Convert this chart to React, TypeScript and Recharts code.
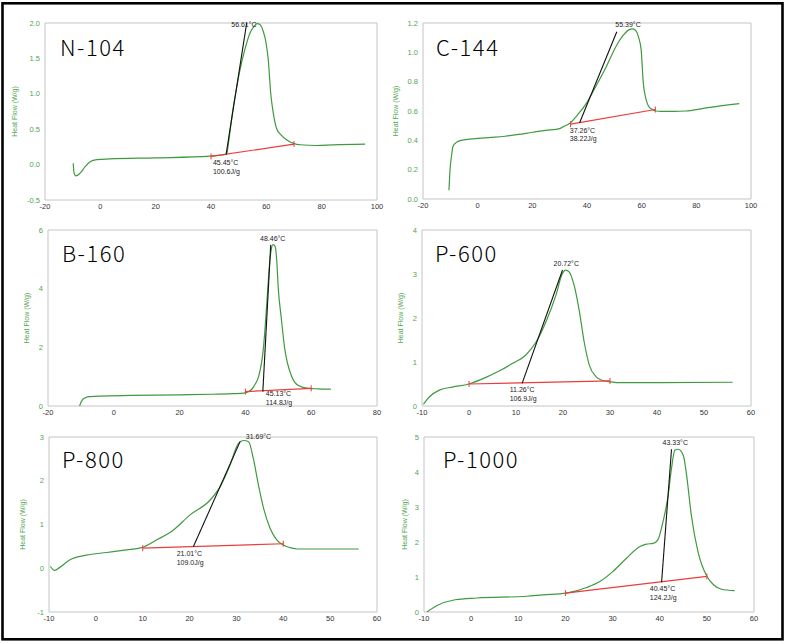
import React from "react";
import { LineChart, Line, XAxis, YAxis, ReferenceArea, ReferenceDot } from "recharts";

// colours
const GREEN = "#3f9a3f";
const TICK_GREEN = "#4fa64f";
const RED = "#ee3b3b";
const FONT = '"Liberation Sans", Arial, sans-serif';

type Pt = { x: number; y: number };

// ---- tick labels ----
const xTicksWide = [-20, 0, 20, 40, 60, 80, 100];
const xTicksMid = [-20, 0, 20, 40, 60, 80];
const xTicksNarrow = [-10, 0, 10, 20, 30, 40, 50, 60];
const yTicksN104 = [-0.5, 0, 0.5, 1.0, 1.5, 2.0];
const yTicksC144 = [0, 0.2, 0.4, 0.6, 0.8, 1.0, 1.2];
const yTicksB160 = [0, 2, 4, 6];
const yTicksP600 = [0, 1, 2, 3, 4];
const yTicksP800 = [-1, 0, 1, 2, 3];
const yTicksP1000 = [0, 1, 2, 3, 4, 5];

// ---- N-104 ----
const n104Curve: Pt[] = [
  { x: -9.8, y: 0.02 }, { x: -9.5, y: -0.12 }, { x: -8.8, y: -0.16 }, { x: -7.3, y: -0.12 },
  { x: -5.5, y: -0.03 }, { x: -3.7, y: 0.04 }, { x: -1.3, y: 0.07 }, { x: 3.5, y: 0.08 },
  { x: 20, y: 0.095 }, { x: 39.6, y: 0.12 }, { x: 43, y: 0.13 }, { x: 45.7, y: 0.15 },
  { x: 46.3, y: 0.3 }, { x: 47.1, y: 0.54 }, { x: 48.1, y: 0.82 }, { x: 48.7, y: 0.96 },
  { x: 50.5, y: 1.34 }, { x: 52.2, y: 1.62 }, { x: 54.1, y: 1.86 }, { x: 55.5, y: 1.95 },
  { x: 56.7, y: 1.99 }, { x: 57.7, y: 1.98 }, { x: 58.9, y: 1.88 }, { x: 59.9, y: 1.72 },
  { x: 60.7, y: 1.48 }, { x: 61.6, y: 1.0 }, { x: 62.5, y: 0.73 }, { x: 63.7, y: 0.51 },
  { x: 65.3, y: 0.42 }, { x: 67.3, y: 0.35 }, { x: 69.8, y: 0.3 }, { x: 72.2, y: 0.28 },
  { x: 78.2, y: 0.27 }, { x: 84.2, y: 0.28 }, { x: 95.7, y: 0.29 },
];
const n104Tangent: Pt[] = [{ x: 45.45, y: 0.14 }, { x: 52.9, y: 2.0 }];
const n104Base: Pt[] = [{ x: 40, y: 0.115 }, { x: 70, y: 0.29 }];

// ---- C-144 ----
const c144Curve: Pt[] = [
  { x: -10.5, y: 0.06 }, { x: -10.1, y: 0.2 }, { x: -9.6, y: 0.29 }, { x: -9, y: 0.36 },
  { x: -7.8, y: 0.386 }, { x: -6, y: 0.4 }, { x: -3, y: 0.408 }, { x: 0, y: 0.413 },
  { x: 5, y: 0.42 }, { x: 10, y: 0.428 }, { x: 15, y: 0.44 }, { x: 20, y: 0.455 },
  { x: 25, y: 0.468 }, { x: 30, y: 0.48 }, { x: 31.5, y: 0.495 }, { x: 33.6, y: 0.515 },
  { x: 36.6, y: 0.575 }, { x: 39.7, y: 0.65 }, { x: 43.3, y: 0.77 }, { x: 47, y: 0.9 },
  { x: 50.6, y: 1.04 }, { x: 53, y: 1.11 }, { x: 55.5, y: 1.155 }, { x: 56.7, y: 1.16 },
  { x: 58, y: 1.145 }, { x: 58.9, y: 1.1 }, { x: 59.8, y: 1.02 }, { x: 60.6, y: 0.79 },
  { x: 61.6, y: 0.68 }, { x: 62.8, y: 0.625 }, { x: 64, y: 0.61 }, { x: 65.3, y: 0.6 },
  { x: 67, y: 0.598 }, { x: 72, y: 0.598 }, { x: 76, y: 0.6 }, { x: 85, y: 0.625 },
  { x: 95.7, y: 0.65 },
];
const c144Tangent: Pt[] = [{ x: 37.3, y: 0.52 }, { x: 50.9, y: 1.14 }];
const c144Base: Pt[] = [{ x: 34, y: 0.51 }, { x: 65, y: 0.61 }];

// ---- B-160 ----
const b160Curve: Pt[] = [
  { x: -10.4, y: 0 }, { x: -10, y: 0.12 }, { x: -9.5, y: 0.22 }, { x: -8.5, y: 0.29 },
  { x: -7, y: 0.32 }, { x: -4, y: 0.34 }, { x: 5, y: 0.36 }, { x: 20, y: 0.38 },
  { x: 30, y: 0.4 }, { x: 36, y: 0.42 }, { x: 40, y: 0.45 }, { x: 42, y: 0.58 },
  { x: 43, y: 0.75 }, { x: 44, y: 1.0 }, { x: 45.5, y: 2.0 }, { x: 46.2, y: 3.0 },
  { x: 46.8, y: 4.0 }, { x: 47.3, y: 4.8 }, { x: 47.8, y: 5.3 }, { x: 48.4, y: 5.5 },
  { x: 49, y: 5.45 }, { x: 49.5, y: 5.0 }, { x: 50, y: 4.0 }, { x: 50.9, y: 3.0 },
  { x: 51.9, y: 2.0 }, { x: 54.1, y: 1.0 }, { x: 56.1, y: 0.7 }, { x: 59.2, y: 0.6 },
  { x: 62, y: 0.585 }, { x: 66, y: 0.575 },
];
const b160Tangent: Pt[] = [{ x: 45.3, y: 0.49 }, { x: 47.7, y: 5.5 }];
const b160Base: Pt[] = [{ x: 40, y: 0.49 }, { x: 60, y: 0.6 }];

// ---- P-600 ----
const p600Curve: Pt[] = [
  { x: -9.7, y: 0.04 }, { x: -8.4, y: 0.21 }, { x: -6.3, y: 0.36 }, { x: -3.5, y: 0.43 },
  { x: 0, y: 0.5 }, { x: 3.6, y: 0.65 }, { x: 6.5, y: 0.8 }, { x: 9.3, y: 0.97 },
  { x: 12.1, y: 1.16 }, { x: 14.3, y: 1.46 }, { x: 16.4, y: 1.92 }, { x: 18.5, y: 2.52 },
  { x: 19.9, y: 3.02 }, { x: 20.6, y: 3.09 }, { x: 21.3, y: 3.05 }, { x: 22.4, y: 2.73 },
  { x: 23.5, y: 2.14 }, { x: 24.5, y: 1.46 }, { x: 25.6, y: 0.93 }, { x: 27, y: 0.67 },
  { x: 28.4, y: 0.58 }, { x: 30.2, y: 0.55 }, { x: 32, y: 0.53 }, { x: 40.5, y: 0.53 },
  { x: 56.1, y: 0.54 },
];
const p600Tangent: Pt[] = [{ x: 11.3, y: 0.515 }, { x: 19.9, y: 3.09 }];
const p600Base: Pt[] = [{ x: 0, y: 0.5 }, { x: 30, y: 0.57 }];

// ---- P-800 ----
const p800Curve: Pt[] = [
  { x: -9.7, y: 0.04 }, { x: -8.8, y: -0.05 }, { x: -7.7, y: 0.02 }, { x: -5.6, y: 0.19 },
  { x: -2, y: 0.3 }, { x: 2.3, y: 0.36 }, { x: 6.5, y: 0.42 }, { x: 9.7, y: 0.47 },
  { x: 13, y: 0.65 }, { x: 16.5, y: 0.87 }, { x: 20.1, y: 1.22 }, { x: 24.4, y: 1.56 },
  { x: 26.5, y: 1.86 }, { x: 28.6, y: 2.35 }, { x: 30.4, y: 2.85 }, { x: 31.5, y: 2.92 },
  { x: 32.6, y: 2.89 }, { x: 33.6, y: 2.51 }, { x: 34.7, y: 1.9 }, { x: 35.8, y: 1.37 },
  { x: 37.2, y: 0.91 }, { x: 38.6, y: 0.65 }, { x: 40, y: 0.53 }, { x: 41.5, y: 0.47 },
  { x: 42.9, y: 0.44 }, { x: 56.1, y: 0.44 },
];
const p800Tangent: Pt[] = [{ x: 20.8, y: 0.49 }, { x: 30.8, y: 2.9 }];
const p800Base: Pt[] = [{ x: 10, y: 0.46 }, { x: 40, y: 0.56 }];

// ---- P-1000 ----
const p1000Curve: Pt[] = [
  { x: -9.4, y: 0 }, { x: -7.3, y: 0.18 }, { x: -3.4, y: 0.35 }, { x: 1.2, y: 0.4 },
  { x: 11.8, y: 0.45 }, { x: 15.3, y: 0.49 }, { x: 20.2, y: 0.54 }, { x: 24.5, y: 0.7 },
  { x: 27.3, y: 0.87 }, { x: 30.1, y: 1.16 }, { x: 32.9, y: 1.53 }, { x: 35.8, y: 1.87 },
  { x: 37.2, y: 1.94 }, { x: 38.6, y: 1.96 }, { x: 39.6, y: 2.06 }, { x: 40.7, y: 2.58 },
  { x: 41.8, y: 3.34 }, { x: 42.5, y: 4.1 }, { x: 43.2, y: 4.62 }, { x: 43.9, y: 4.65 },
  { x: 45, y: 4.48 }, { x: 45.7, y: 3.91 }, { x: 46.7, y: 2.77 }, { x: 48.1, y: 1.73 },
  { x: 50, y: 1.02 }, { x: 51.4, y: 0.78 }, { x: 53.1, y: 0.65 }, { x: 55.9, y: 0.61 },
];
const p1000Tangent: Pt[] = [{ x: 40.4, y: 0.85 }, { x: 42.5, y: 4.65 }];
const p1000Base: Pt[] = [{ x: 20, y: 0.54 }, { x: 50, y: 1.02 }];

type Note = { x: number; y: number; lines: string[]; anchor: "start" | "middle" };

type Panel = {
  name: string;
  curve: Pt[];
  tangent: Pt[];
  base: Pt[];
  xTicks: number[];
  yTicks: number[];
  decimals: number;
  notes: Note[];
  plot: { l: number; t: number; r: number; b: number };
  cell: { x: number; y: number; w: number; h: number };
  labelGap: number;
  title: { x: number; y: number };
};

const panels: Panel[] = [
  {
    name: "N-104", curve: n104Curve, tangent: n104Tangent, base: n104Base,
    xTicks: xTicksWide, yTicks: yTicksN104, decimals: 1,
    notes: [
      { x: 51.9, y: 1.94, lines: ["56.61°C"], anchor: "middle" },
      { x: 40.7, y: -0.01, lines: ["45.45°C", "100.6J/g"], anchor: "start" },
    ],
    plot: { l: 45, t: 23, r: 377, b: 200 }, cell: { x: 4, y: 4, w: 390, h: 213 },
    labelGap: 30, title: { x: 60, y: 56 },
  },
  {
    name: "C-144", curve: c144Curve, tangent: c144Tangent, base: c144Base,
    xTicks: xTicksWide, yTicks: yTicksC144, decimals: 1,
    notes: [
      { x: 55.0, y: 1.176, lines: ["55.39°C"], anchor: "middle" },
      { x: 33.7, y: 0.453, lines: ["37.26°C", "38.22J/g"], anchor: "start" },
    ],
    plot: { l: 423, t: 23, r: 751, b: 199 }, cell: { x: 386, y: 4, w: 396, h: 213 },
    labelGap: 27, title: { x: 436, y: 56 },
  },
  {
    name: "B-160", curve: b160Curve, tangent: b160Tangent, base: b160Base,
    xTicks: xTicksMid, yTicks: yTicksB160, decimals: 0,
    notes: [
      { x: 48.3, y: 5.63, lines: ["48.46°C"], anchor: "middle" },
      { x: 46.2, y: 0.34, lines: ["45.13°C", "114.8J/g"], anchor: "start" },
    ],
    plot: { l: 48, t: 230, r: 377, b: 406 }, cell: { x: 4, y: 217, w: 390, h: 208 },
    labelGap: 21, title: { x: 62, y: 262 },
  },
  {
    name: "P-600", curve: p600Curve, tangent: p600Tangent, base: p600Base,
    xTicks: xTicksNarrow, yTicks: yTicksP600, decimals: 0,
    notes: [
      { x: 20.7, y: 3.18, lines: ["20.72°C"], anchor: "middle" },
      { x: 8.66, y: 0.307, lines: ["11.26°C", "106.9J/g"], anchor: "start" },
    ],
    plot: { l: 422, t: 230, r: 751, b: 406 }, cell: { x: 386, y: 217, w: 396, h: 208 },
    labelGap: 21, title: { x: 435, y: 262 },
  },
  {
    name: "P-800", curve: p800Curve, tangent: p800Tangent, base: p800Base,
    xTicks: xTicksNarrow, yTicks: yTicksP800, decimals: 0,
    notes: [
      { x: 32.0, y: 2.95, lines: ["31.69°C"], anchor: "start" },
      { x: 17.25, y: 0.28, lines: ["21.01°C", "109.0J/g"], anchor: "start" },
    ],
    plot: { l: 49, t: 437, r: 377, b: 612 }, cell: { x: 4, y: 425, w: 390, h: 213 },
    labelGap: 26, title: { x: 62, y: 468 },
  },
  {
    name: "P-1000", curve: p1000Curve, tangent: p1000Tangent, base: p1000Base,
    xTicks: xTicksNarrow, yTicks: yTicksP1000, decimals: 0,
    notes: [
      { x: 43.3, y: 4.77, lines: ["43.33°C"], anchor: "middle" },
      { x: 37.9, y: 0.586, lines: ["40.45°C", "124.2J/g"], anchor: "start" },
    ],
    plot: { l: 424, t: 437, r: 754, b: 612 }, cell: { x: 386, y: 425, w: 396, h: 213 },
    labelGap: 19, title: { x: 443, y: 468 },
  },
];

const Y_W = 34;
const X_H = 14;

// red baseline end ticks
const BaseTick = (props: any) => {
  const { cx, cy, index } = props;
  if (cx == null || cy == null) return <g key={index} />;
  return <line key={index} x1={cx} x2={cx} y1={cy - 3} y2={cy + 3} stroke={RED} strokeWidth={1} />;
};

function DscPanel({ p }: { p: Panel }) {
  const xMin = p.xTicks[0];
  const xMax = p.xTicks[p.xTicks.length - 1];
  const yMin = p.yTicks[0];
  const yMax = p.yTicks[p.yTicks.length - 1];
  const margin = {
    top: p.plot.t - p.cell.y,
    left: p.plot.l - p.cell.x - Y_W,
    right: p.cell.x + p.cell.w - p.plot.r,
    bottom: p.cell.y + p.cell.h - p.plot.b - X_H,
  };
  return (
    <div style={{ position: "absolute", left: p.cell.x, top: p.cell.y }}>
      <LineChart width={p.cell.w} height={p.cell.h} margin={margin}>
        <XAxis
          dataKey="x"
          type="number"
          domain={[xMin, xMax]}
          ticks={p.xTicks}
          allowDataOverflow
          height={X_H}
          axisLine={false}
          tickLine={false}
          tickSize={3}
          tickMargin={1}
          interval={0}
          tick={{ fontSize: 7.5, fill: "#333", fontFamily: FONT }}
        />
        <YAxis
          type="number"
          domain={[yMin, yMax]}
          ticks={p.yTicks}
          allowDataOverflow
          width={Y_W}
          axisLine={false}
          tickLine={false}
          tickSize={3}
          tickMargin={2}
          interval={0}
          tickFormatter={(v: number) => v.toFixed(p.decimals)}
          tick={{ fontSize: 7.5, fill: TICK_GREEN, fontFamily: FONT }}
          label={{
            value: "Heat Flow (W/g)",
            angle: -90,
            position: "insideLeft",
            offset: Y_W - p.labelGap,
            style: { textAnchor: "middle", fontSize: 7, fill: TICK_GREEN, fontFamily: FONT },
          }}
        />
        <ReferenceArea x1={xMin} x2={xMax} y1={yMin} y2={yMax} fill="none" stroke="#c4c4c4" strokeWidth={1} ifOverflow="visible" />
        <Line data={p.curve} dataKey="y" type="monotone" stroke={GREEN} strokeWidth={1.2} dot={false} isAnimationActive={false} />
        <Line data={p.base} dataKey="y" type="linear" stroke={RED} strokeWidth={1.2} dot={BaseTick} isAnimationActive={false} />
        <Line data={p.tangent} dataKey="y" type="linear" stroke="#111" strokeWidth={1.1} dot={false} isAnimationActive={false} />
        {p.notes.map((n, i) => (
          <ReferenceDot
            key={i}
            x={n.x}
            y={n.y}
            r={0}
            ifOverflow="visible"
            shape={(s: any) => (
              <text x={s.cx} y={s.cy} fontSize={7} fill="#222" fontFamily={FONT} textAnchor={n.anchor}>
                {n.lines.map((t, j) => (
                  <tspan key={j} x={s.cx} dy={j === 0 ? 0 : 8.5}>{t}</tspan>
                ))}
              </text>
            )}
          />
        ))}
      </LineChart>
    </div>
  );
}

export default function App() {
  return (
    <div style={{ position: "relative", width: 786, height: 644, background: "#fff", overflow: "hidden" }}>
      <style>{`body{margin:0}`}</style>
      {panels.map((p) => (
        <DscPanel key={p.name} p={p} />
      ))}
      <svg width={786} height={644} style={{ position: "absolute", left: 0, top: 0, pointerEvents: "none" }}>
        <rect x={2.5} y={3.3} width={780} height={636} fill="none" stroke="#000" strokeWidth={2.6} />
        {panels.map((p) => (
          <text
            key={p.name}
            x={p.title.x}
            y={p.title.y}
            fontSize={22}
            fontWeight={300}
            letterSpacing={1.5}
            fontFamily='"Noto Sans CJK KR", "Noto Sans", sans-serif'
            fill="#000"
          >
            {p.name}
          </text>
        ))}
      </svg>
    </div>
  );
}
